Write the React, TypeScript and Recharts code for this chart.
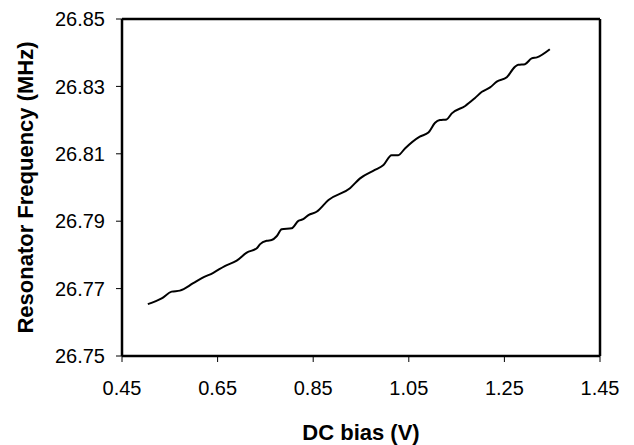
import React from 'react';
import { LineChart, Line, XAxis, YAxis, ReferenceLine } from 'recharts';

const biasV = [
  0.504, 0.533, 0.554, 0.571, 0.599, 0.617, 0.641, 0.665, 0.69, 0.711, 0.732, 0.739, 0.753, 0.763,
  0.774, 0.784, 0.805, 0.819, 0.829, 0.84, 0.857, 0.882, 0.927, 0.948, 0.979, 0.997, 1.014, 1.028,
  1.042, 1.073, 1.091, 1.105, 1.115, 1.129, 1.14, 1.168, 1.188, 1.203, 1.22, 1.234, 1.255, 1.272,
  1.279, 1.293, 1.307, 1.318, 1.345,
];
const freqMHz = [
  26.7654, 26.7671, 26.7691, 26.7694, 26.7716, 26.7731, 26.7747, 26.7767, 26.7783, 26.7807, 26.782,
  26.7832, 26.7842, 26.7844, 26.7856, 26.7876, 26.7879, 26.7901, 26.7906, 26.7918, 26.7928, 26.7963,
  26.7998, 26.8027, 26.8052, 26.8067, 26.8096, 26.8096, 26.8116, 26.8151, 26.8163, 26.8192, 26.82,
  26.8202, 26.822, 26.8242, 26.8265, 26.8284, 26.8297, 26.8314, 26.8327, 26.8358, 26.8364, 26.8366,
  26.8383, 26.8386, 26.841,
];
const xTicks = [0.45, 0.65, 0.85, 1.05, 1.25, 1.45];
const yTicks = [26.75, 26.77, 26.79, 26.81, 26.83, 26.85];
const xTitle = 'DC bias (V)';
const yTitle = 'Resonator Frequency (MHz)';

const data = biasV.map((v, i) => ({ v, f: freqMHz[i] }));

const FONT = '"Liberation Sans", Arial, sans-serif';
const fmt = (n: number) => n.toFixed(2);

const xTitleContent = (p: any) => {
  const vb = p.viewBox || {};
  return (
    <text x={vb.x + vb.width / 2} y={vb.y + vb.height - 5} textAnchor="middle"
      fontFamily={FONT} fontWeight="bold" fontSize={22} fill="#000">
      {xTitle}
    </text>
  );
};

const yTitleContent = (p: any) => {
  const vb = p.viewBox || {};
  const cy = vb.y + vb.height / 2;
  return (
    <text transform={`translate(33, ${cy}) rotate(-90)`} x={0} y={0} textAnchor="middle"
      fontFamily={FONT} fontWeight="bold" fontSize={22} fill="#000">
      {yTitle}
    </text>
  );
};

export default function App() {
  return (
    <div style={{ position: 'absolute', left: 0, top: 0, width: 634, height: 445, background: '#fff' }}>
      <LineChart width={634} height={445} data={data} margin={{ top: 19, right: 34, bottom: 0, left: 0 }}>
        <XAxis
          dataKey="v"
          type="number"
          domain={[xTicks[0], xTicks[xTicks.length - 1]]}
          ticks={xTicks}
          tickFormatter={fmt}
          height={89}
          tickSize={6}
          tickMargin={19}
          stroke="#000"
          strokeWidth={2}
          axisLine={{ stroke: '#000', strokeWidth: 2.5 }}
          tickLine={{ stroke: '#000', strokeWidth: 1 }}
          tick={{ fill: '#000', stroke: 'none', fontSize: 20, fontFamily: FONT }}
          label={{ content: xTitleContent }}
        />
        <YAxis
          dataKey="f"
          type="number"
          domain={[yTicks[0], yTicks[yTicks.length - 1]]}
          ticks={yTicks}
          tickFormatter={fmt}
          width={122}
          tickSize={6}
          tickMargin={11}
          stroke="#000"
          strokeWidth={2}
          axisLine={{ stroke: '#000', strokeWidth: 2.5 }}
          tickLine={{ stroke: '#000', strokeWidth: 1 }}
          tick={{ fill: '#000', stroke: 'none', fontSize: 20, fontFamily: FONT }}
          label={{ content: yTitleContent }}
        />
        <ReferenceLine y={26.85} stroke="#000" strokeWidth={2.5} ifOverflow="extendDomain" />
        <ReferenceLine x={1.45} stroke="#000" strokeWidth={2.5} ifOverflow="extendDomain" />
        <Line
          type="monotone"
          dataKey="f"
          stroke="#000"
          strokeWidth={2}
          dot={false}
          isAnimationActive={false}
        />
      </LineChart>
    </div>
  );
}
